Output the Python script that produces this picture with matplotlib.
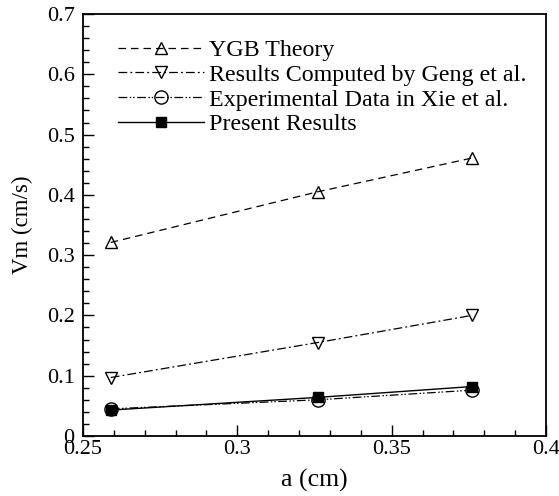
#!/usr/bin/env python3
"""Vm versus a: YGB theory, Geng et al., Xie et al. and present results."""

import matplotlib
matplotlib.use("Agg")
import matplotlib.pyplot as plt
from matplotlib.ticker import MultipleLocator, FuncFormatter

a_cm = [0.259, 0.326, 0.376]
ygb_theory = [0.321, 0.405, 0.461]
geng = [0.097, 0.155, 0.200]
xie_exp = [0.045, 0.060, 0.076]
present = [0.043, 0.064, 0.082]

plt.rcParams["font.family"] = ["Liberation Serif", "DejaVu Serif"]

fig = plt.figure(figsize=(5.59, 4.96), dpi=100)
ax = fig.add_axes([0.1485, 0.121, 0.8282, 0.8508])

ms = 8.5
ax.plot(a_cm, ygb_theory, color="black", lw=0.9, ls=(0, (6, 4)),
        marker="^", ms=ms, mfc="none", mec="black", mew=1.0, label="YGB Theory")
ax.plot(a_cm, geng, color="black", lw=0.9, ls=(0, (7, 2.5, 1.5, 2.5)),
        marker="v", ms=ms, mfc="none", mec="black", mew=1.0,
        label="Results Computed by Geng et al.")
ax.plot(a_cm, xie_exp, color="black", lw=0.9,
        ls=(0, (7, 2, 1.2, 1.5, 1.2, 2)),
        marker="o", ms=9.5, mfc="none", mec="black", mew=1.0,
        label="Experimental Data in Xie et al.")
ax.plot(a_cm, present, color="black", lw=1.0, ls="-",
        marker="s", ms=7, mfc="black", mec="black", label="Present Results")

ax.set_xlim(0.25, 0.4)
ax.set_ylim(0, 0.7)
ax.xaxis.set_major_locator(MultipleLocator(0.05))
ax.xaxis.set_minor_locator(MultipleLocator(0.01))
ax.yaxis.set_major_locator(MultipleLocator(0.1))
ax.yaxis.set_minor_locator(MultipleLocator(0.02))
ax.xaxis.set_major_formatter(FuncFormatter(lambda v, p: f"{v:g}"))
ax.yaxis.set_major_formatter(FuncFormatter(lambda v, p: f"{v:g}"))

ax.tick_params(which="both", direction="in", top=False, right=False,
               labelsize=16, width=1.0)
ax.tick_params(axis="x", pad=3)
ax.tick_params(axis="y", pad=6)
ax.tick_params(which="major", length=8)
ax.tick_params(which="minor", length=4)
for s in ax.spines.values():
    s.set_linewidth(1.3)

ax.set_xlabel("a (cm)", fontsize=18.5, labelpad=7)
ax.set_ylabel("Vm (cm/s)", fontsize=16.5, labelpad=10)

ax.legend(loc="upper left", bbox_to_anchor=(0.075, 0.94), frameon=False,
          fontsize=17.3, numpoints=1, handlelength=3.6, handletextpad=0.2,
          labelspacing=0.12, borderaxespad=0.0, borderpad=0.0)

fig.savefig("out.png", dpi=100)
